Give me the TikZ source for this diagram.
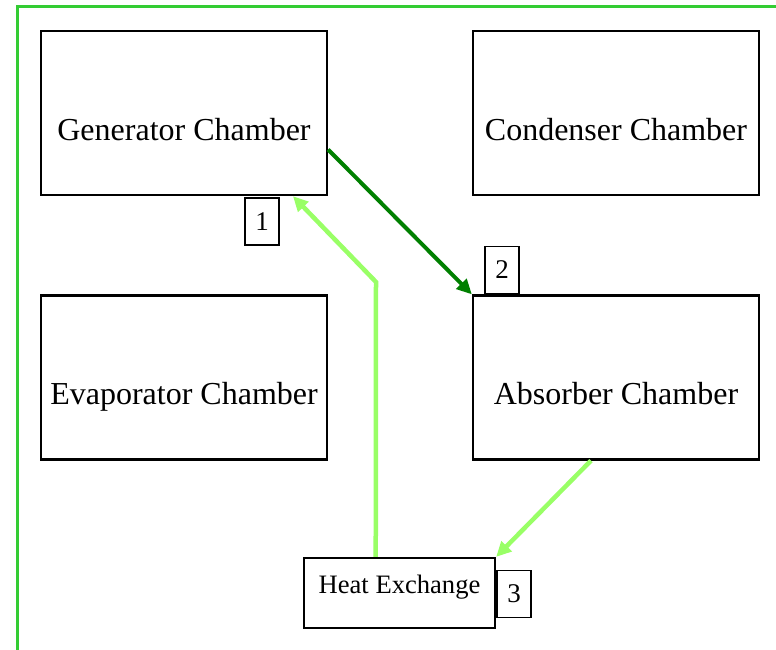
\documentclass[tikz,border=0pt]{standalone}
\usepackage{fontspec}
\setmainfont{Liberation Serif}
\usetikzlibrary{arrows.meta,calc}
\definecolor{framegreen}{HTML}{33CC33}
\definecolor{darkflow}{HTML}{008000}
\definecolor{lightflow}{HTML}{99FF66}
\tikzset{
  chamber/.style={draw=black, line width=2.3pt, rectangle, minimum width=286pt, minimum height=164pt,
    inner sep=0pt, font=\fontsize{32}{36}\selectfont, text height=54pt, text depth=0pt},
  hxbox/.style={draw=black, line width=2.3pt, rectangle, minimum width=191pt, minimum height=70pt,
    inner sep=0pt, font=\fontsize{26.6}{30}\selectfont, text height=9pt, text depth=9pt},
  numbox/.style={draw=black, line width=1.8pt, rectangle, minimum width=34pt, minimum height=47pt,
    inner sep=0pt, font=\fontsize{27}{30}\selectfont},
  darkarrow/.style={draw=darkflow, line width=4pt, -{Triangle[length=15pt,width=14pt]}},
  lightarrow/.style={draw=lightflow, line width=4.5pt, -{Triangle[length=15pt,width=14pt]}},
}
\begin{document}
\begin{tikzpicture}[x=1pt,y=-1pt]
\useasboundingbox (0,0) rectangle (776,650);
\fill[white] (0,0) rectangle (776,650);
% frame (only top and left edges visible)
\draw[framegreen, line width=3pt] (17,660) -- (17,7) -- (790,7);

\node[chamber] (gen) at (184,113) {Generator Chamber};
\node[chamber] (con) at (616,113) {Condenser Chamber};
\node[chamber] (eva) at (184,377.5) {Evaporator Chamber};
\node[chamber] (abs) at (616,377.5) {Absorber Chamber};
\node[hxbox] (hx) at (399.5,593) {Heat Exchange};

\node[numbox] (n1) at (262,221.5) {1};
\node[numbox] (n2) at (502,270) {2};
\node[numbox] (n3) at (514,594) {3};

\coordinate (bend) at (376,282);

\draw[darkarrow] ($(gen.north east)!0.72!(gen.south east)$) -- (abs.north west);
\draw[lightarrow] ($(hx.north west)!0.377!(hx.north east)$) -- (bend)
  -- ($(gen.south west)!0.878!(gen.south east)$);
\draw[lightarrow] ($(abs.south west)!0.413!(abs.south east)$) -- (hx.north east);
\end{tikzpicture}
\end{document}
